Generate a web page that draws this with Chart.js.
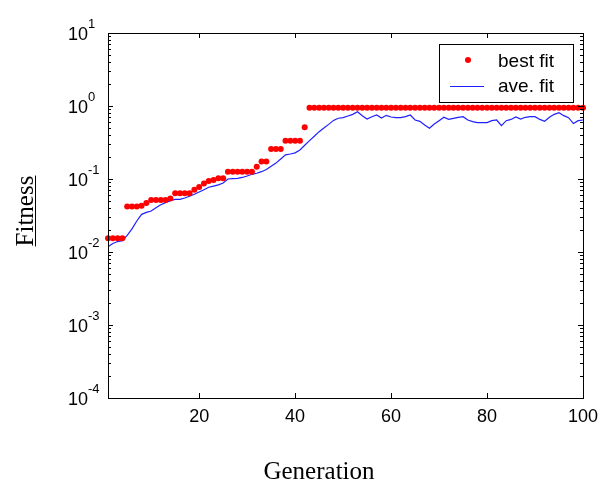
<!DOCTYPE html>
<html>
<head>
<meta charset="utf-8">
<script src="https://cdn.jsdelivr.net/npm/chart.js@4/dist/chart.umd.min.js"></script>
<style>
  html, body { margin: 0; padding: 0; background: #ffffff; }
  #wrap { width: 600px; height: 483px; }
</style>
</head>
<body>
<div id="wrap"><canvas id="fitChart" width="600" height="483"></canvas></div>
<script>
// Generations on the x axis
const generations = Array.from({ length: 100 }, (_, i) => i + 1);

// Best individual fitness per generation
const bestFit = [
  0.0154, 0.0154, 0.0154, 0.0154, 0.042, 0.042, 0.042, 0.043, 0.047, 0.0515,
  0.0515, 0.0515, 0.0515, 0.054, 0.064, 0.064, 0.064, 0.064, 0.071, 0.078,
  0.087, 0.094, 0.097, 0.102, 0.102, 0.126, 0.126, 0.126, 0.126, 0.126,
  0.126, 0.147, 0.173, 0.173, 0.258, 0.258, 0.258, 0.333, 0.333, 0.333,
  0.333, 0.51, 0.948, 0.948, 0.948, 0.948, 0.948, 0.948, 0.948, 0.948,
  0.948, 0.948, 0.948, 0.948, 0.948, 0.948, 0.948, 0.948, 0.948, 0.948,
  0.948, 0.948, 0.948, 0.948, 0.948, 0.948, 0.948, 0.948, 0.948, 0.948,
  0.948, 0.948, 0.948, 0.948, 0.948, 0.948, 0.948, 0.948, 0.948, 0.948,
  0.948, 0.948, 0.948, 0.948, 0.948, 0.948, 0.948, 0.948, 0.948, 0.948,
  0.948, 0.948, 0.948, 0.948, 0.948, 0.948, 0.948, 0.948, 0.948, 0.948
];

// Average fitness per generation
const aveFit = [
  0.0118, 0.0131, 0.0139, 0.0143, 0.0169, 0.0207, 0.0266, 0.0328, 0.0349, 0.0365,
  0.0405, 0.0445, 0.0474, 0.0505, 0.0527, 0.0527, 0.0549, 0.058, 0.0617, 0.0664,
  0.0714, 0.077, 0.080, 0.083, 0.088, 0.100, 0.101, 0.102, 0.105, 0.110,
  0.116, 0.120, 0.126, 0.135, 0.150, 0.165, 0.188, 0.214, 0.220, 0.228,
  0.250, 0.290, 0.335, 0.385, 0.445, 0.500, 0.560, 0.635, 0.680, 0.692,
  0.730, 0.769, 0.836, 0.737, 0.663, 0.714, 0.753, 0.685, 0.745, 0.707,
  0.692, 0.692, 0.714, 0.753, 0.643, 0.617, 0.549, 0.495, 0.567, 0.629,
  0.700, 0.655, 0.677, 0.700, 0.714, 0.643, 0.610, 0.591, 0.591, 0.591,
  0.629, 0.643, 0.538, 0.629, 0.655, 0.707, 0.663, 0.700, 0.714, 0.714,
  0.655, 0.617, 0.700, 0.769, 0.810, 0.737, 0.692, 0.575, 0.629, 0.643
];

// Tick labels
const xTicks = [20, 40, 60, 80, 100];
const yExponents = [-4, -3, -2, -1, 0, 1];

const xTitle = 'Generation';
const yTitle = 'Fitness';

const colors = {
  best: '#ff0000',
  ave: '#2020ff',
  axis: '#000000',
  text: '#000000'
};

// Matlab-like frame, inward ticks, superscript labels and legend box
const matlabFrame = {
  id: 'matlabFrame',
  afterDatasetsDraw(chart) {
    const { ctx, chartArea: a, scales } = chart;
    const xs = scales.x, ys = scales.y;
    ctx.save();
    ctx.strokeStyle = colors.axis;
    ctx.lineWidth = 1;

    // frame
    ctx.strokeRect(Math.round(a.left) + 0.5, Math.round(a.top) + 0.5,
      Math.round(a.right - a.left), Math.round(a.bottom - a.top));

    ctx.beginPath();
    // x ticks, top and bottom
    xTicks.forEach(v => {
      const px = Math.round(xs.getPixelForValue(v)) + 0.5;
      if (v < xs.max) {
        ctx.moveTo(px, a.bottom); ctx.lineTo(px, a.bottom - 5);
        ctx.moveTo(px, a.top); ctx.lineTo(px, a.top + 5);
      }
    });
    // y ticks, major and minor, left and right
    yExponents.forEach(e => {
      const py = Math.round(ys.getPixelForValue(Math.pow(10, e))) + 0.5;
      ctx.moveTo(a.left, py); ctx.lineTo(a.left + 5, py);
      ctx.moveTo(a.right, py); ctx.lineTo(a.right - 5, py);
      if (e < 1) {
        for (let m = 2; m <= 9; m++) {
          const my = Math.round(ys.getPixelForValue(m * Math.pow(10, e))) + 0.5;
          ctx.moveTo(a.left, my); ctx.lineTo(a.left + 3, my);
          ctx.moveTo(a.right, my); ctx.lineTo(a.right - 3, my);
        }
      }
    });
    ctx.stroke();

    ctx.fillStyle = colors.text;
    // x tick labels
    ctx.font = '18px "Liberation Sans", Arial, sans-serif';
    ctx.textAlign = 'center';
    ctx.textBaseline = 'alphabetic';
    xTicks.forEach(v => {
      ctx.fillText(String(v), xs.getPixelForValue(v), a.bottom + 24);
    });

    // y tick labels as 10 with a raised exponent
    yExponents.forEach(e => {
      const py = ys.getPixelForValue(Math.pow(10, e));
      ctx.font = '18px "Liberation Sans", Arial, sans-serif';
      ctx.textAlign = 'right';
      ctx.fillText('10', a.left - 20, py + 7);
      ctx.font = '13px "Liberation Sans", Arial, sans-serif';
      ctx.textAlign = 'left';
      ctx.fillText(String(e), a.left - 20, py - 5);
    });

    // axis titles
    ctx.font = '25px "Liberation Serif", "Times New Roman", serif';
    ctx.textAlign = 'center';
    ctx.fillText(xTitle, 319, 479);

    ctx.save();
    ctx.translate(33, 211);
    ctx.rotate(-Math.PI / 2);
    ctx.fillText(yTitle, 0, 0);
    const tw = ctx.measureText(yTitle).width;
    ctx.fillRect(-tw / 2, 2, tw, 1);
    ctx.restore();

    // legend
    const lx = 439, ly = 44, lw = 134, lh = 58;
    ctx.fillStyle = '#ffffff';
    ctx.fillRect(lx, ly, lw, lh);
    ctx.strokeStyle = colors.axis;
    ctx.strokeRect(lx + 0.5, ly + 0.5, lw, lh);

    const ds = chart.data.datasets;
    ctx.fillStyle = colors.best;
    ctx.beginPath();
    ctx.arc(468, 60, 3, 0, Math.PI * 2);
    ctx.fill();

    ctx.strokeStyle = colors.ave;
    ctx.beginPath();
    ctx.moveTo(450, 86.5); ctx.lineTo(484, 86.5);
    ctx.stroke();

    ctx.fillStyle = colors.text;
    ctx.font = '19px "Liberation Sans", Arial, sans-serif';
    ctx.textAlign = 'left';
    ctx.fillText(ds[0].label, 498, 67);
    ctx.fillText(ds[1].label, 498, 92);

    ctx.restore();
  }
};

new Chart(document.getElementById('fitChart'), {
  type: 'line',
  data: {
    labels: generations,
    datasets: [
      {
        label: 'best fit',
        data: generations.map((g, i) => ({ x: g, y: bestFit[i] })),
        showLine: false,
        pointStyle: 'circle',
        pointRadius: 3,
        pointBorderWidth: 0,
        pointBackgroundColor: colors.best,
        borderColor: colors.best,
        clip: false
      },
      {
        label: 'ave. fit',
        data: generations.map((g, i) => ({ x: g, y: aveFit[i] })),
        borderColor: colors.ave,
        borderWidth: 1.2,
        pointRadius: 0,
        tension: 0,
        fill: false
      }
    ]
  },
  options: {
    responsive: false,
    animation: false,
    devicePixelRatio: 1,
    layout: {
      padding: { left: 108, right: 17, top: 33, bottom: 85 }
    },
    plugins: {
      legend: { display: false },
      tooltip: { enabled: false }
    },
    scales: {
      x: { type: 'linear', min: 1, max: 100, display: false },
      y: { type: 'logarithmic', min: 1e-4, max: 10, display: false }
    }
  },
  plugins: [matlabFrame]
});
</script>
</body>
</html>
